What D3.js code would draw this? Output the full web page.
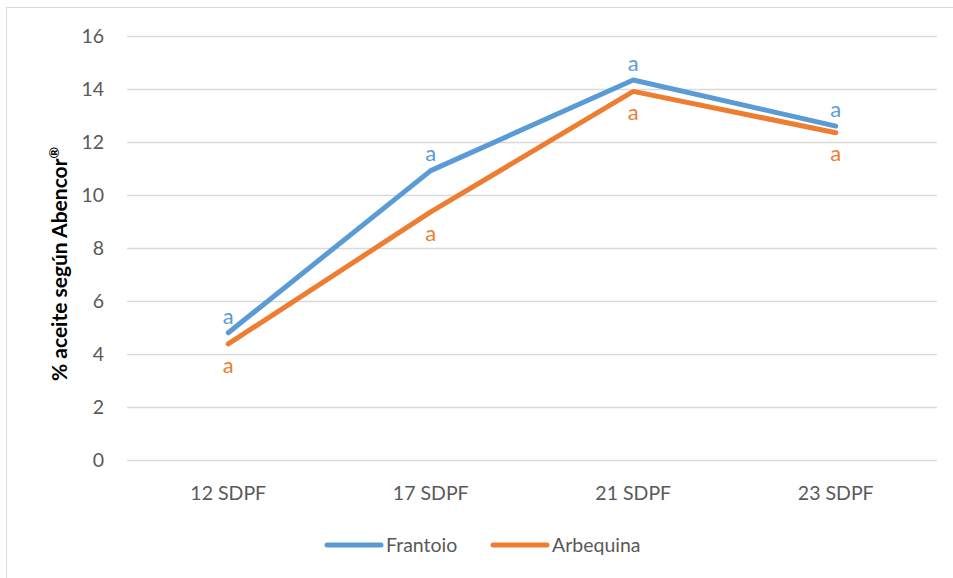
<!DOCTYPE html>
<html>
<head>
<meta charset="utf-8">
<script src="https://cdn.jsdelivr.net/npm/d3@7"></script>
<style>
  body { margin: 0; background: #fff; }
  text { font-family: Lato, "Open Sans", sans-serif; }
</style>
</head>
<body>
<div id="chart"></div>
<script>
var categories = ["12 SDPF", "17 SDPF", "21 SDPF", "23 SDPF"];
var frantoio = [4.80, 10.92, 14.34, 12.60];
var arbequina = [4.38, 9.36, 13.91, 12.35];
var yTicks = [0, 2, 4, 6, 8, 10, 12, 14, 16];
var letterFrantoio = ["a", "a", "a", "a"];
var letterArbequina = ["a", "a", "a", "a"];

var width = 953;
var height = 578;

var series = [
    { name: "Frantoio", values: frantoio, letters: letterFrantoio, color: "#5B9BD5", dy: -17 },
    { name: "Arbequina", values: arbequina, letters: letterArbequina, color: "#ED7D31", dy: 21 }
];

var svg = d3.select("#chart")
    .append("svg")
    .attr("width", width)
    .attr("height", height);

// chart border
svg.append("rect")
    .attr("x", 6.5).attr("y", 7.5)
    .attr("width", 960).attr("height", 600)
    .attr("fill", "none")
    .attr("stroke", "#D9D9D9");

var x = d3.scaleBand()
    .domain(categories)
    .range([127, 937]);

var y = d3.scaleLinear()
    .domain([0, 16])
    .range([460, 36]);

// gridlines
svg.append("g")
    .selectAll("line")
    .data(yTicks)
    .join("line")
    .attr("x1", 127).attr("x2", 937)
    .attr("y1", d => Math.round(y(d)) + 0.5)
    .attr("y2", d => Math.round(y(d)) + 0.5)
    .attr("stroke", "#D9D9D9")
    .attr("stroke-width", 1.5);

// y tick labels
svg.append("g")
    .selectAll("text")
    .data(yTicks)
    .join("text")
    .attr("x", 104)
    .attr("y", d => y(d))
    .attr("dy", "0.35em")
    .attr("text-anchor", "end")
    .attr("font-size", 19.5)
    .attr("fill", "#595959")
    .text(d => d);

// x labels
svg.append("g")
    .selectAll("text")
    .data(categories)
    .join("text")
    .attr("x", d => x(d) + x.bandwidth() / 2)
    .attr("y", 493)
    .attr("dy", "0.35em")
    .attr("text-anchor", "middle")
    .attr("font-size", 19.5)
    .attr("fill", "#595959")
    .text(d => d);

// y axis title
var title = svg.append("text")
    .attr("transform", "translate(60, 264) rotate(-90)")
    .attr("text-anchor", "middle")
    .attr("dy", "0.35em")
    .attr("font-size", 21)
    .attr("font-weight", "bold")
    .attr("fill", "#000");
title.append("tspan").text("% aceite según Abencor");
title.append("tspan")
    .attr("baseline-shift", "super")
    .attr("font-size", 14)
    .text("®");

var line = d3.line()
    .x((d, i) => x(categories[i]) + x.bandwidth() / 2)
    .y(d => y(d));

series.forEach(function (s) {
    svg.append("path")
        .datum(s.values)
        .attr("fill", "none")
        .attr("stroke", s.color)
        .attr("stroke-width", 5)
        .attr("stroke-linecap", "round")
        .attr("stroke-linejoin", "round")
        .attr("d", line);

    svg.append("g")
        .selectAll("text")
        .data(s.values)
        .join("text")
        .attr("x", (d, i) => x(categories[i]) + x.bandwidth() / 2)
        .attr("y", d => y(d) + s.dy)
        .attr("dy", "0.35em")
        .attr("text-anchor", "middle")
        .attr("font-size", 22)
        .attr("fill", s.color)
        .text((d, i) => s.letters[i]);
});

// legend
var legendX = [327, 493];
series.forEach(function (s, i) {
    var g = svg.append("g").attr("transform", "translate(" + legendX[i] + ",545)");
    g.append("line")
        .attr("x1", 0).attr("x2", 54)
        .attr("stroke", s.color)
        .attr("stroke-width", 5)
        .attr("stroke-linecap", "round");
    g.append("text")
        .attr("x", 59)
        .attr("dy", "0.35em")
        .attr("font-size", 19.5)
        .attr("fill", "#595959")
        .text(s.name);
});
</script>
</body>
</html>
